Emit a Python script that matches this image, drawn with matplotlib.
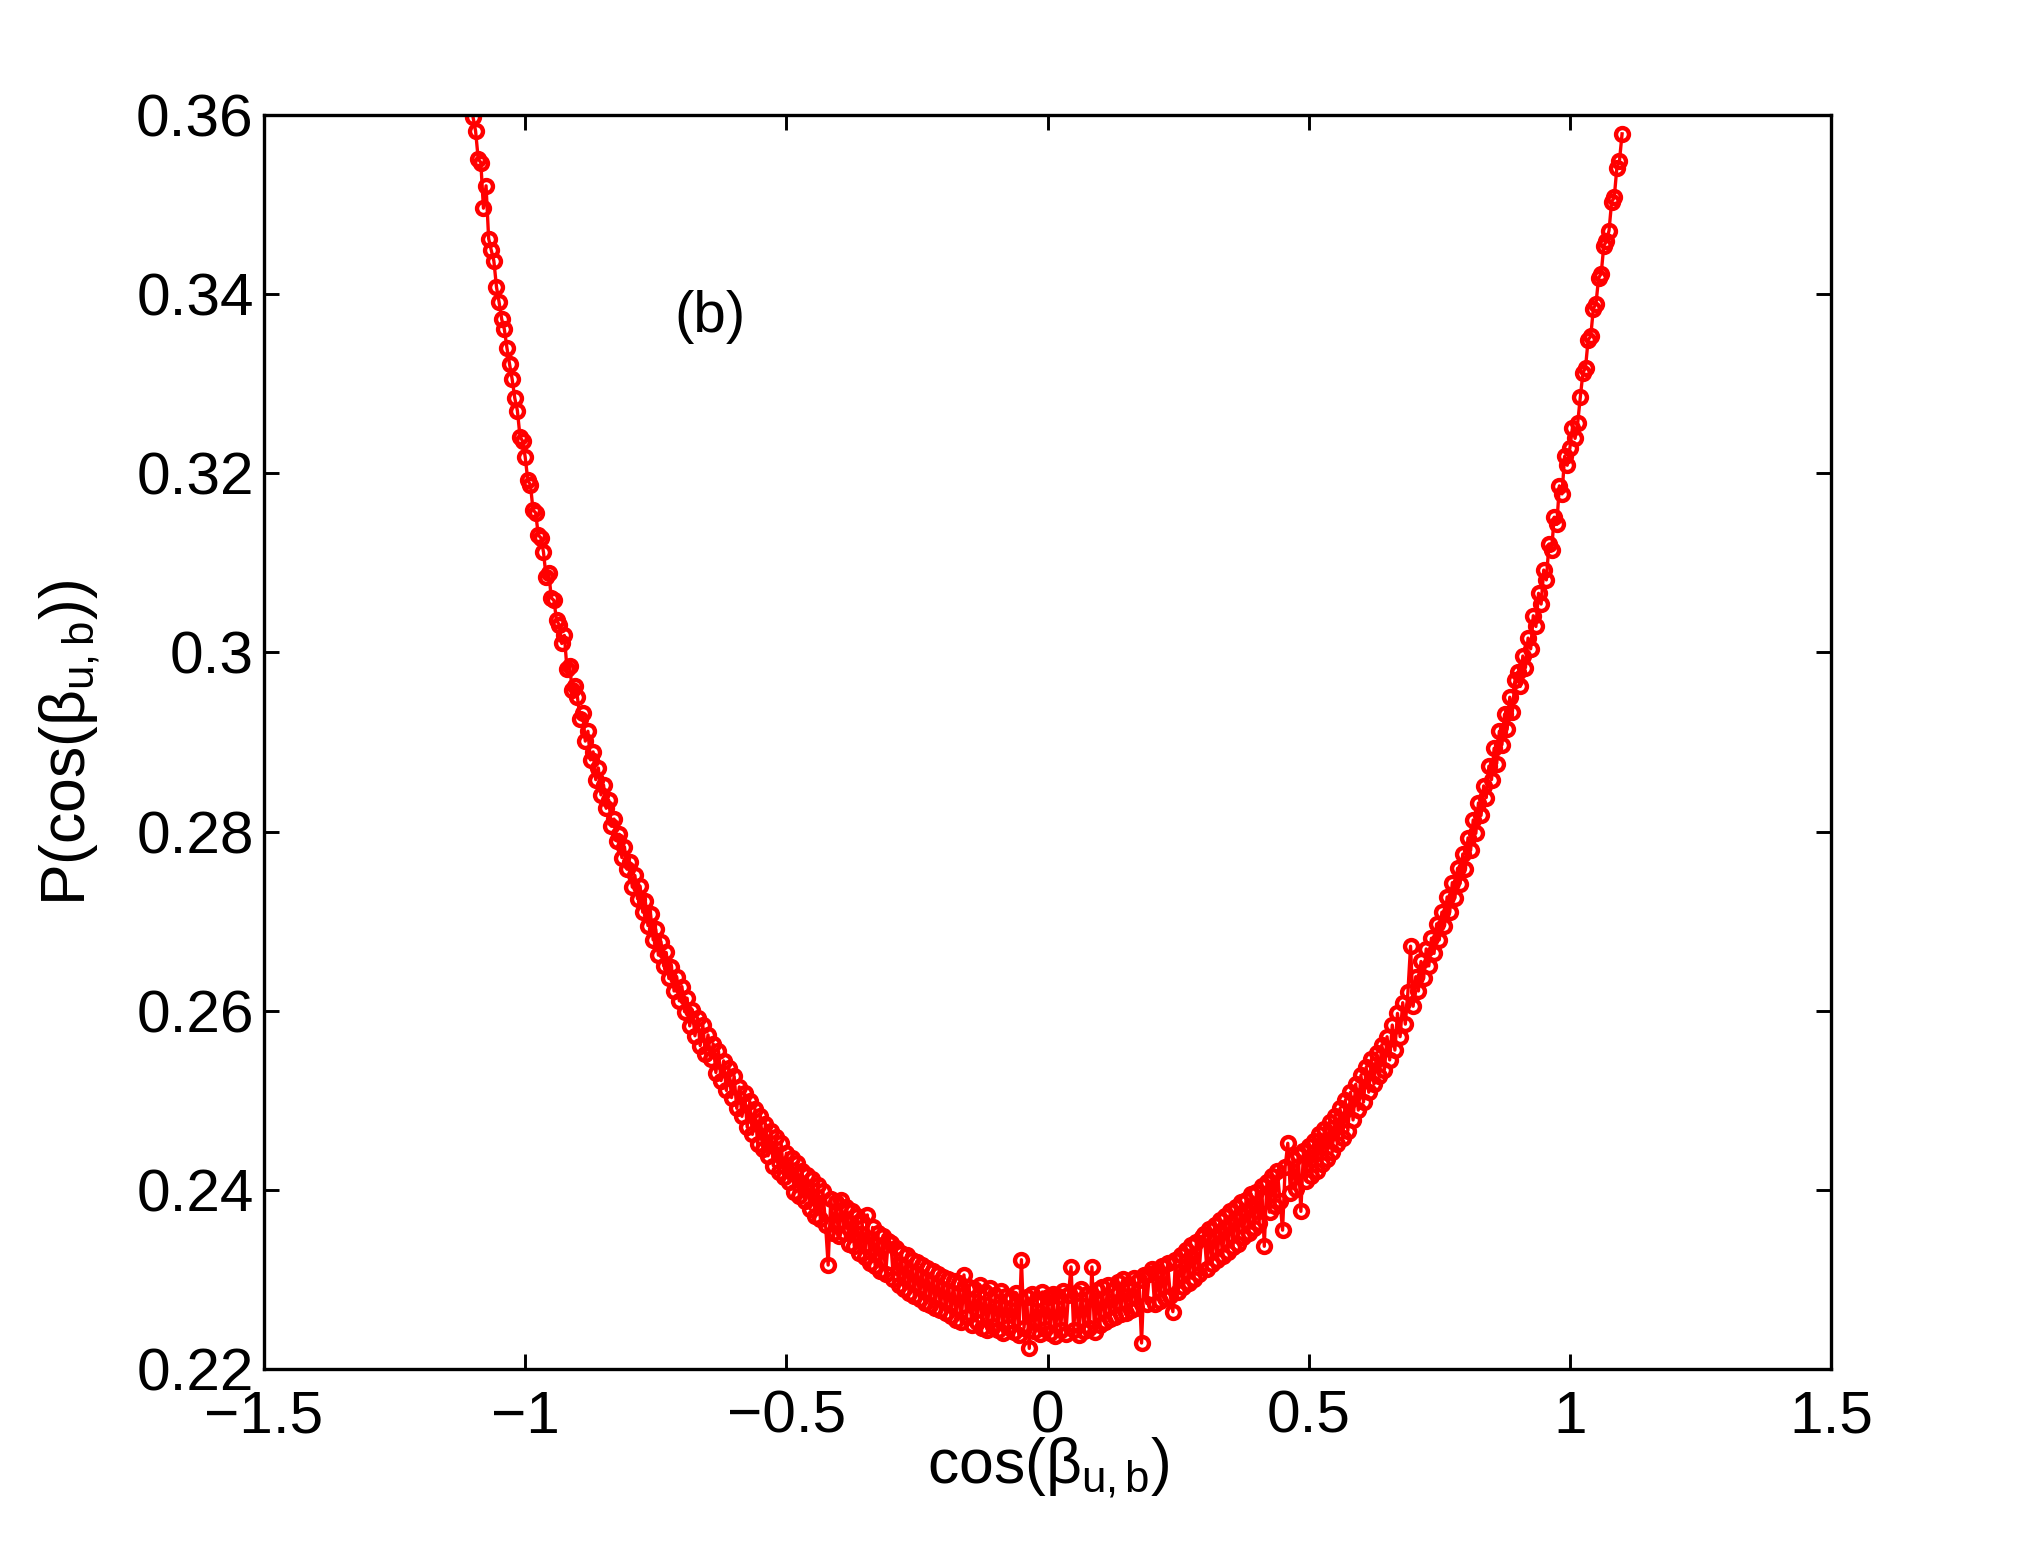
import matplotlib
matplotlib.use("Agg")
import matplotlib.pyplot as plt
from matplotlib.ticker import FuncFormatter

plt.rcParams['font.family'] = ['Liberation Sans', 'DejaVu Sans']
plt.rcParams['mathtext.fontset'] = 'custom'
plt.rcParams['mathtext.rm'] = 'Liberation Sans'
plt.rcParams['mathtext.it'] = 'Liberation Sans'
plt.rcParams['mathtext.bf'] = 'Liberation Sans:bold'

# cos(beta_u,b) bins
cos_beta = [
    -1.100, -1.095, -1.090, -1.085, -1.080, -1.075, -1.070, -1.065, -1.060, -1.055,
    -1.050, -1.045, -1.040, -1.035, -1.030, -1.025, -1.020, -1.015, -1.010, -1.005,
    -1.000, -0.995, -0.990, -0.985, -0.980, -0.975, -0.970, -0.965, -0.960, -0.955,
    -0.950, -0.945, -0.940, -0.935, -0.930, -0.925, -0.920, -0.915, -0.910, -0.905,
    -0.900, -0.895, -0.890, -0.885, -0.880, -0.875, -0.870, -0.865, -0.860, -0.855,
    -0.850, -0.845, -0.840, -0.835, -0.830, -0.825, -0.820, -0.815, -0.810, -0.805,
    -0.800, -0.795, -0.790, -0.785, -0.780, -0.775, -0.770, -0.765, -0.760, -0.755,
    -0.750, -0.745, -0.740, -0.735, -0.730, -0.725, -0.720, -0.715, -0.710, -0.705,
    -0.700, -0.695, -0.690, -0.685, -0.680, -0.675, -0.670, -0.665, -0.660, -0.655,
    -0.650, -0.645, -0.640, -0.635, -0.630, -0.625, -0.620, -0.615, -0.610, -0.605,
    -0.600, -0.595, -0.590, -0.585, -0.580, -0.575, -0.570, -0.565, -0.560, -0.555,
    -0.550, -0.545, -0.540, -0.535, -0.530, -0.525, -0.520, -0.515, -0.510, -0.505,
    -0.500, -0.495, -0.490, -0.485, -0.480, -0.475, -0.470, -0.465, -0.460, -0.455,
    -0.450, -0.445, -0.440, -0.435, -0.430, -0.425, -0.420, -0.415, -0.410, -0.405,
    -0.400, -0.395, -0.390, -0.385, -0.380, -0.375, -0.370, -0.365, -0.360, -0.355,
    -0.350, -0.345, -0.340, -0.335, -0.330, -0.325, -0.320, -0.315, -0.310, -0.305,
    -0.300, -0.295, -0.290, -0.285, -0.280, -0.275, -0.270, -0.265, -0.260, -0.255,
    -0.250, -0.245, -0.240, -0.235, -0.230, -0.225, -0.220, -0.215, -0.210, -0.205,
    -0.200, -0.195, -0.190, -0.185, -0.180, -0.175, -0.170, -0.165, -0.160, -0.155,
    -0.150, -0.145, -0.140, -0.135, -0.130, -0.125, -0.120, -0.115, -0.110, -0.105,
    -0.100, -0.095, -0.090, -0.085, -0.080, -0.075, -0.070, -0.065, -0.060, -0.055,
    -0.050, -0.045, -0.040, -0.035, -0.030, -0.025, -0.020, -0.015, -0.010, -0.005,
    0.000, 0.005, 0.010, 0.015, 0.020, 0.025, 0.030, 0.035, 0.040, 0.045,
    0.050, 0.055, 0.060, 0.065, 0.070, 0.075, 0.080, 0.085, 0.090, 0.095,
    0.100, 0.105, 0.110, 0.115, 0.120, 0.125, 0.130, 0.135, 0.140, 0.145,
    0.150, 0.155, 0.160, 0.165, 0.170, 0.175, 0.180, 0.185, 0.190, 0.195,
    0.200, 0.205, 0.210, 0.215, 0.220, 0.225, 0.230, 0.235, 0.240, 0.245,
    0.250, 0.255, 0.260, 0.265, 0.270, 0.275, 0.280, 0.285, 0.290, 0.295,
    0.300, 0.305, 0.310, 0.315, 0.320, 0.325, 0.330, 0.335, 0.340, 0.345,
    0.350, 0.355, 0.360, 0.365, 0.370, 0.375, 0.380, 0.385, 0.390, 0.395,
    0.400, 0.405, 0.410, 0.415, 0.420, 0.425, 0.430, 0.435, 0.440, 0.445,
    0.450, 0.455, 0.460, 0.465, 0.470, 0.475, 0.480, 0.485, 0.490, 0.495,
    0.500, 0.505, 0.510, 0.515, 0.520, 0.525, 0.530, 0.535, 0.540, 0.545,
    0.550, 0.555, 0.560, 0.565, 0.570, 0.575, 0.580, 0.585, 0.590, 0.595,
    0.600, 0.605, 0.610, 0.615, 0.620, 0.625, 0.630, 0.635, 0.640, 0.645,
    0.650, 0.655, 0.660, 0.665, 0.670, 0.675, 0.680, 0.685, 0.690, 0.695,
    0.700, 0.705, 0.710, 0.715, 0.720, 0.725, 0.730, 0.735, 0.740, 0.745,
    0.750, 0.755, 0.760, 0.765, 0.770, 0.775, 0.780, 0.785, 0.790, 0.795,
    0.800, 0.805, 0.810, 0.815, 0.820, 0.825, 0.830, 0.835, 0.840, 0.845,
    0.850, 0.855, 0.860, 0.865, 0.870, 0.875, 0.880, 0.885, 0.890, 0.895,
    0.900, 0.905, 0.910, 0.915, 0.920, 0.925, 0.930, 0.935, 0.940, 0.945,
    0.950, 0.955, 0.960, 0.965, 0.970, 0.975, 0.980, 0.985, 0.990, 0.995,
    1.000, 1.005, 1.010, 1.015, 1.020, 1.025, 1.030, 1.035, 1.040, 1.045,
    1.050, 1.055, 1.060, 1.065, 1.070, 1.075, 1.080, 1.085, 1.090, 1.095,
    1.100,
]

# P(cos(beta_u,b)), estimated point by point
prob = [
    0.3598, 0.3582, 0.3551, 0.3547, 0.3496, 0.3521, 0.3462, 0.3449, 0.3437, 0.3408,
    0.3391, 0.3372, 0.3361, 0.3340, 0.3322, 0.3305, 0.3284, 0.3270, 0.3241, 0.3236,
    0.3218, 0.3192, 0.3187, 0.3159, 0.3156, 0.3131, 0.3128, 0.3112, 0.3084, 0.3089,
    0.3061, 0.3058, 0.3036, 0.3031, 0.3010, 0.3019, 0.2981, 0.2985, 0.2958, 0.2962,
    0.2950, 0.2926, 0.2932, 0.2901, 0.2912, 0.2880, 0.2889, 0.2858, 0.2871, 0.2841,
    0.2852, 0.2826, 0.2835, 0.2806, 0.2814, 0.2790, 0.2797, 0.2771, 0.2783, 0.2758,
    0.2766, 0.2738, 0.2751, 0.2725, 0.2739, 0.2710, 0.2722, 0.2695, 0.2708, 0.2679,
    0.2691, 0.2662, 0.2677, 0.2650, 0.2665, 0.2636, 0.2649, 0.2622, 0.2638, 0.2611,
    0.2627, 0.2599, 0.2614, 0.2583, 0.2601, 0.2572, 0.2592, 0.2561, 0.2584, 0.2552,
    0.2573, 0.2546, 0.2563, 0.2531, 0.2555, 0.2522, 0.2544, 0.2511, 0.2536, 0.2503,
    0.2527, 0.2491, 0.2515, 0.2482, 0.2508, 0.2470, 0.2499, 0.2462, 0.2490, 0.2451,
    0.2483, 0.2446, 0.2474, 0.2438, 0.2466, 0.2427, 0.2459, 0.2420, 0.2452, 0.2414,
    0.2441, 0.2409, 0.2436, 0.2398, 0.2430, 0.2393, 0.2421, 0.2388, 0.2417, 0.2379,
    0.2412, 0.2371, 0.2405, 0.2368, 0.2399, 0.2361, 0.2316, 0.2390, 0.2352, 0.2386,
    0.2349, 0.2389, 0.2352, 0.2381, 0.2340, 0.2376, 0.2337, 0.2371, 0.2329, 0.2364,
    0.2325, 0.2372, 0.2318, 0.2358, 0.2315, 0.2352, 0.2309, 0.2349, 0.2306, 0.2343,
    0.2341, 0.2300, 0.2335, 0.2294, 0.2330, 0.2289, 0.2327, 0.2285, 0.2322, 0.2281,
    0.2319, 0.2278, 0.2316, 0.2274, 0.2313, 0.2271, 0.2309, 0.2268, 0.2306, 0.2266,
    0.2303, 0.2262, 0.2301, 0.2259, 0.2298, 0.2255, 0.2296, 0.2252, 0.2305, 0.2258,
    0.2291, 0.2249, 0.2289, 0.2253, 0.2294, 0.2246, 0.2286, 0.2244, 0.2290, 0.2248,
    0.2283, 0.2243, 0.2287, 0.2240, 0.2282, 0.2247, 0.2279, 0.2241, 0.2285, 0.2238,
    0.2322, 0.2246, 0.2280, 0.2223, 0.2284, 0.2242, 0.2278, 0.2239, 0.2286, 0.2245,
    0.2280, 0.2240, 0.2284, 0.2237, 0.2281, 0.2243, 0.2287, 0.2239, 0.2283, 0.2314,
    0.2244, 0.2285, 0.2238, 0.2289, 0.2242, 0.2284, 0.2246, 0.2314, 0.2241, 0.2288,
    0.2249, 0.2291, 0.2252, 0.2294, 0.2256, 0.2288, 0.2258, 0.2297, 0.2261, 0.2300,
    0.2262, 0.2295, 0.2266, 0.2302, 0.2268, 0.2299, 0.2229, 0.2305, 0.2273, 0.2306,
    0.2312, 0.2272, 0.2309, 0.2276, 0.2315, 0.2279, 0.2318, 0.2282, 0.2264, 0.2322,
    0.2286, 0.2327, 0.2292, 0.2333, 0.2296, 0.2338, 0.2301, 0.2342, 0.2306, 0.2347,
    0.2351, 0.2312, 0.2356, 0.2317, 0.2361, 0.2322, 0.2366, 0.2326, 0.2371, 0.2331,
    0.2376, 0.2336, 0.2381, 0.2340, 0.2386, 0.2347, 0.2389, 0.2352, 0.2395, 0.2357,
    0.2398, 0.2363, 0.2404, 0.2337, 0.2409, 0.2375, 0.2416, 0.2382, 0.2421, 0.2388,
    0.2355, 0.2426, 0.2452, 0.2397, 0.2434, 0.2401, 0.2439, 0.2376, 0.2443, 0.2410,
    0.2449, 0.2415, 0.2455, 0.2421, 0.2462, 0.2429, 0.2468, 0.2435, 0.2476, 0.2442,
    0.2483, 0.2451, 0.2491, 0.2458, 0.2500, 0.2466, 0.2509, 0.2478, 0.2518, 0.2489,
    0.2528, 0.2498, 0.2537, 0.2509, 0.2546, 0.2518, 0.2553, 0.2527, 0.2562, 0.2534,
    0.2571, 0.2545, 0.2584, 0.2556, 0.2597, 0.2571, 0.2609, 0.2585, 0.2621, 0.2672,
    0.2605, 0.2638, 0.2622, 0.2655, 0.2636, 0.2669, 0.2650, 0.2681, 0.2664, 0.2697,
    0.2679, 0.2710, 0.2695, 0.2727, 0.2710, 0.2743, 0.2726, 0.2759, 0.2742, 0.2775,
    0.2758, 0.2793, 0.2779, 0.2813, 0.2798, 0.2832, 0.2818, 0.2851, 0.2838, 0.2873,
    0.2858, 0.2893, 0.2876, 0.2912, 0.2897, 0.2931, 0.2914, 0.2950, 0.2934, 0.2969,
    0.2978, 0.2962, 0.2996, 0.2983, 0.3016, 0.3004, 0.3041, 0.3029, 0.3066, 0.3054,
    0.3092, 0.3081, 0.3121, 0.3114, 0.3151, 0.3143, 0.3186, 0.3177, 0.3219, 0.3209,
    0.3228, 0.3251, 0.3239, 0.3256, 0.3285, 0.3312, 0.3318, 0.3349, 0.3353, 0.3384,
    0.3389, 0.3418, 0.3423, 0.3454, 0.3459, 0.3471, 0.3503, 0.3508, 0.3541, 0.3549,
    0.3579,
]

x_ticks = [-1.5, -1.0, -0.5, 0.0, 0.5, 1.0, 1.5]
y_ticks = [0.22, 0.24, 0.26, 0.28, 0.30, 0.32, 0.34, 0.36]

fig = plt.figure(figsize=(13.5, 10.28), dpi=150)
ax = fig.add_axes([0.1304, 0.1122, 0.7738, 0.8132])

ax.plot(cos_beta, prob, color='red', linewidth=1.6, marker='o',
        markersize=6.2, markerfacecolor='none', markeredgecolor='red',
        markeredgewidth=2.1)

ax.set_xlim(-1.5, 1.5)
ax.set_ylim(0.22, 0.36)
ax.set_xticks(x_ticks)
ax.set_yticks(y_ticks)
ax.xaxis.set_major_formatter(FuncFormatter(lambda v, p: f'{v:g}'.replace('-', '\u2212')))
ax.yaxis.set_major_formatter(FuncFormatter(lambda v, p: f'{v:g}'))

ax.tick_params(direction='in', top=True, right=True, length=7.2, width=1.4,
               labelsize=29)
ax.tick_params(axis='x', pad=10)
ax.tick_params(axis='y', pad=5)
for s in ax.spines.values():
    s.set_linewidth(1.6)

ax.text(-0.647, 0.3375, '(b)', fontsize=28, ha='center', va='center')

# axis labels, placed like the MATLAB original
fig.text(1048 / 2025, 1 - 1468 / 1542, r'cos($\beta_{u,b}$)', fontsize=30,
         ha='center', va='center')
fig.text(70 / 2025, 1 - 743 / 1542, r'P(cos($\beta_{u,b}$))', fontsize=30,
         ha='center', va='center', rotation=90)

fig.savefig('out.png', dpi=150)
